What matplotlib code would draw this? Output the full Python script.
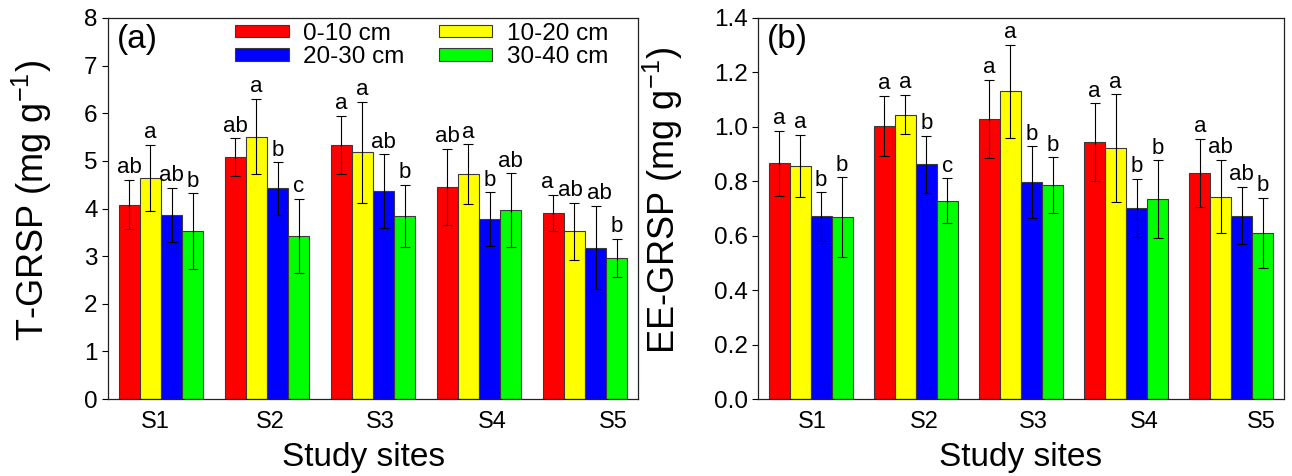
import numpy as np
import matplotlib
matplotlib.use("Agg")
import matplotlib.pyplot as plt

plt.rcParams['font.family'] = ['Liberation Sans', 'DejaVu Sans']
plt.rcParams['mathtext.fontset'] = 'custom'
plt.rcParams['mathtext.rm'] = 'Liberation Sans'
plt.rcParams['mathtext.default'] = 'regular'

sites = ['S1', 'S2', 'S3', 'S4', 'S5']
depths = ['0-10 cm', '10-20 cm', '20-30 cm', '30-40 cm']
colors = ['#ff0000', '#ffff00', '#0000ff', '#00ff00']

# T-GRSP (mg g-1), one list per depth, S1..S5
t_0_10 = [4.08, 5.08, 5.34, 4.45, 3.90]
t_10_20 = [4.64, 5.51, 5.18, 4.72, 3.52]
t_20_30 = [3.87, 4.42, 4.37, 3.78, 3.18]
t_30_40 = [3.52, 3.42, 3.84, 3.97, 2.96]
t_err_0_10 = [0.52, 0.39, 0.61, 0.80, 0.38]
t_err_10_20 = [0.70, 0.79, 1.06, 0.63, 0.60]
t_err_20_30 = [0.57, 0.55, 0.77, 0.56, 0.88]
t_err_30_40 = [0.80, 0.78, 0.65, 0.77, 0.40]
t_let_0_10 = ['ab', 'ab', 'a', 'ab', 'a']
t_let_10_20 = ['a', 'a', 'a', 'a', 'ab']
t_let_20_30 = ['ab', 'b', 'ab', 'b', 'ab']
t_let_30_40 = ['b', 'c', 'b', 'ab', 'b']

# EE-GRSP (mg g-1)
e_0_10 = [0.866, 1.003, 1.030, 0.944, 0.830]
e_10_20 = [0.857, 1.045, 1.130, 0.921, 0.744]
e_20_30 = [0.671, 0.863, 0.796, 0.702, 0.674]
e_30_40 = [0.668, 0.729, 0.786, 0.734, 0.609]
e_err_0_10 = [0.120, 0.111, 0.143, 0.143, 0.126]
e_err_10_20 = [0.113, 0.072, 0.171, 0.198, 0.135]
e_err_20_30 = [0.089, 0.105, 0.132, 0.107, 0.105]
e_err_30_40 = [0.146, 0.082, 0.102, 0.143, 0.129]
e_let_0_10 = ['a', 'a', 'a', 'a', 'a']
e_let_10_20 = ['a', 'a', 'a', 'a', 'ab']
e_let_20_30 = ['b', 'b', 'b', 'b', 'ab']
e_let_30_40 = ['b', 'c', 'b', 'b', 'b']

# where the site names sit (they are not centred under the groups)
tick_pos_a = [0.943, 2.03, 3.07, 4.13, 5.27]
tick_pos_b = [1.02, 2.08, 3.12, 4.17, 5.28]

# small sideways nudges (points) for crowded letters: (depth, site) -> dx
nudge_a = {(0, 4): -4, (1, 4): -3, (2, 4): 2.5}
nudge_b = {}

W = 1292.0
H = 476.0
fig = plt.figure(figsize=(W / 100, H / 100), dpi=100)
ax1 = fig.add_axes([108 / W, 77 / H, 530 / W, 381 / H])
ax2 = fig.add_axes([758 / W, 77 / H, 526 / W, 381 / H])


def draw_panel(ax, vals, errs, lets, ylim, yticks, fmt, ylabel, tag, tick_pos, xlab_x, ylab_x, nudge):
    x = np.arange(1, len(sites) + 1)
    w = 0.2
    bars = []
    for i in range(4):
        xi = x + (i - 1.5) * w
        b = ax.bar(xi, vals[i], w, color=colors[i], edgecolor='#3a3a3a', linewidth=0.8,
                   yerr=errs[i], error_kw=dict(ecolor='black', elinewidth=0.8, capsize=3.3, capthick=0.8),
                   zorder=2)
        bars.append(b)
        for j in range(len(sites)):
            dx = nudge.get((i, j), 0)
            ax.annotate(lets[i][j], (xi[j], vals[i][j] + errs[i][j]), xytext=(dx, 1.2),
                        textcoords='offset points', ha='center', va='bottom', fontsize=16)
    ax.set_xlim(0.5, 5.5)
    ax.set_ylim(*ylim)
    ax.set_yticks(yticks)
    ax.set_yticklabels([fmt % v for v in yticks])
    ax.set_xticks(tick_pos)
    ax.set_xticklabels(sites)
    ax.tick_params(axis='x', length=0, pad=9, labelsize=17)
    ax.tick_params(axis='y', direction='out', length=4, width=0.8, pad=3.5, labelsize=17.5)
    for s in ax.spines.values():
        s.set_linewidth(0.9)
        s.set_color('#222222')
    ax.set_xlabel('Study sites', fontsize=24)
    ax.xaxis.set_label_coords(xlab_x, -0.113)
    ax.set_ylabel(ylabel, fontsize=26)
    ax.yaxis.set_label_coords(ylab_x, 0.52)
    ax.text(0.017, 0.984, tag, transform=ax.transAxes, ha='left', va='top', fontsize=24)
    return bars


bars = draw_panel(ax1, [t_0_10, t_10_20, t_20_30, t_30_40],
                  [t_err_0_10, t_err_10_20, t_err_20_30, t_err_30_40],
                  [t_let_0_10, t_let_10_20, t_let_20_30, t_let_30_40],
                  (0, 8), list(range(0, 9)), '%d', 'T-GRSP (mg g$^{-1}$)', '(a)',
                  tick_pos_a, 0.483, -0.102, nudge_a)

draw_panel(ax2, [e_0_10, e_10_20, e_20_30, e_30_40],
           [e_err_0_10, e_err_10_20, e_err_20_30, e_err_30_40],
           [e_let_0_10, e_let_10_20, e_let_20_30, e_let_30_40],
           (0, 1.4), [round(0.2 * k, 1) for k in range(8)], '%.1f', 'EE-GRSP (mg g$^{-1}$)', '(b)',
           tick_pos_b, 0.5, -0.139, nudge_b)

# legend: rows 0-10 / 10-20 and 20-30 / 30-40
order = [0, 2, 1, 3]
ax1.legend([bars[k] for k in order], [depths[k] for k in order], ncol=2, loc='upper left',
           bbox_to_anchor=(0.240, 0.987), frameon=False, fontsize=17.5, borderpad=0,
           borderaxespad=0, handlelength=2.2, handleheight=0.4, handletextpad=0.6,
           columnspacing=1.4, labelspacing=0.05)

fig.savefig('out.png', dpi=100)
